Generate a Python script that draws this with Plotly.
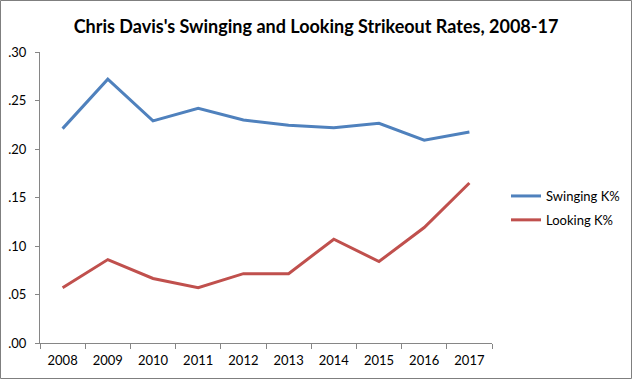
import plotly.graph_objects as go

years = ["2008", "2009", "2010", "2011", "2012", "2013", "2014", "2015", "2016", "2017"]
swinging = [0.221, 0.272, 0.229, 0.242, 0.230, 0.2245, 0.222, 0.2265, 0.209, 0.2175]
looking = [0.057, 0.086, 0.0665, 0.057, 0.0715, 0.0715, 0.107, 0.084, 0.119, 0.165]
y_tickvals = [0.0, 0.05, 0.10, 0.15, 0.20, 0.25, 0.30]
y_ticktext = [".00", ".05", ".10", ".15", ".20", ".25", ".30"]

W, H = 632, 379
ml, mr, mt, mb = 40, 140, 52, 36
pw = W - ml - mr
ph = H - mt - mb

fig = go.Figure()
fig.add_trace(go.Scatter(x=years, y=swinging, mode="lines", name="Swinging K%",
                         legendgroup="a", line=dict(color="#4F81BD", width=3)))
fig.add_trace(go.Scatter(x=years, y=looking, mode="lines", name="Looking K%",
                         legendgroup="b", line=dict(color="#C0504D", width=3)))

fig.update_layout(
    width=W, height=H,
    margin=dict(l=ml, r=mr, t=mt, b=mb, autoexpand=False),
    paper_bgcolor="white", plot_bgcolor="white",
    font=dict(family="Lato, Calibri, sans-serif", size=13, color="#000000"),
    title=dict(text="<b>Chris Davis's Swinging and Looking Strikeout Rates, 2008-17</b>",
               x=0.5, xanchor="center", y=1 - 27 / H, yanchor="middle",
               font=dict(size=18, color="#000000")),
    showlegend=True,
    legend=dict(x=(506 - ml) / pw, xanchor="left", y=(H - 208 - mb) / ph, yanchor="middle",
                font=dict(size=13), bgcolor="rgba(0,0,0,0)", tracegroupgap=4,
                traceorder="grouped"),
    xaxis=dict(type="category", range=[-0.5, 9.5], automargin=False,
               showline=True, linecolor="#868686", linewidth=1,
               ticks="outside", ticklen=5, tickcolor="#868686", tickson="boundaries",
               ticklabelstandoff=5,
               showgrid=False, zeroline=False, fixedrange=True),
    yaxis=dict(range=[0, 0.30], tickvals=y_tickvals, ticktext=y_ticktext, automargin=False,
               showline=True, linecolor="#868686", linewidth=1,
               ticks="outside", ticklen=4, tickcolor="#868686", ticklabelstandoff=6,
               showgrid=False, zeroline=False, fixedrange=True),
)

fig.add_shape(type="rect", xref="paper", yref="paper",
              x0=-ml / pw + 0.5 / pw, x1=(W - ml - 0.5) / pw,
              y0=-mb / ph + 0.5 / ph, y1=(H - mb - 0.5) / ph,
              line=dict(color="#7F7F7F", width=1), fillcolor="rgba(0,0,0,0)", layer="above")

fig.write_html("out.html", config={"displayModeBar": False},
               post_script="document.body.style.margin='0';document.body.style.padding='0';")
